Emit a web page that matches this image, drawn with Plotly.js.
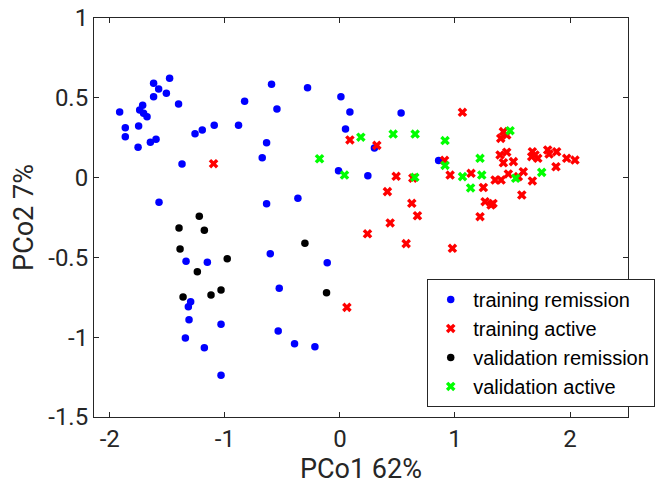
<!DOCTYPE html>
<html>
<head>
<meta charset="utf-8">
<script src="https://cdn.plot.ly/plotly-3.0.1.min.js"></script>
<style>html,body{margin:0;padding:0;background:#fff;}#chart{width:667px;height:489px;}</style>
</head>
<body>
<div id="chart"></div>
<script>
// training remission (blue)
const trainRemX = [-1.480,-1.619,-1.575,-1.508,-1.619,-1.402,-1.914,-1.714,-1.740,-1.706,-1.676,-1.865,-1.749,-1.865,-1.754,-1.647,-1.598,-1.372,-1.259,-1.196,-1.092,-0.881,-0.828,-0.594,-0.547,-0.637,-0.675,-1.572,-0.637,-0.281,0.009,0.087,0.532,0.049,0.300,-0.012,0.243,0.858,-0.365,-0.605,-0.110,-0.527,-0.536,-0.394,-0.217,-1.337,-1.152,-1.297,-1.317,-1.311,-1.033,-1.343,-1.178,-1.033];
const trainRemY = [0.622,0.591,0.555,0.528,0.507,0.461,0.411,0.453,0.424,0.403,0.382,0.313,0.323,0.256,0.190,0.221,0.240,0.085,0.275,0.298,0.328,0.328,0.478,0.585,0.430,0.219,0.125,-0.155,-0.164,0.563,0.507,0.411,0.405,0.305,0.185,0.043,0.012,0.107,-0.130,-0.477,-0.533,-0.694,-0.961,-1.041,-1.060,-0.524,-0.531,-0.778,-0.809,-0.890,-0.919,-1.005,-1.066,-1.239];

// training active (red)
const trainActX = [-1.098,0.087,0.321,0.489,0.634,0.413,0.625,0.674,0.437,0.240,0.576,0.061,0.978,0.910,0.958,1.065,1.140,1.247,1.398,1.421,1.450,1.392,1.450,1.421,1.508,1.673,1.696,1.720,1.667,1.806,1.884,1.971,2.043,1.878,1.594,1.464,1.349,1.401,1.551,1.673,1.581,1.262,1.314,1.218,1.818,1.331];
const trainActY = [0.087,0.236,0.202,0.008,-0.003,-0.088,-0.161,-0.239,-0.284,-0.352,-0.414,-0.813,-0.443,0.108,0.016,0.409,0.027,-0.062,0.246,0.288,0.267,0.142,0.159,0.093,0.100,0.162,0.142,0.121,0.131,0.173,0.162,0.121,0.110,0.068,0.037,0.023,-0.015,-0.015,0.006,-0.021,-0.109,-0.151,-0.172,-0.245,0.148,-0.162];

// validation remission (black)
const valRemX = [-1.222,-1.398,-1.178,-1.389,-0.979,-1.239,-1.033,-1.120,-1.363,-0.304,-0.116];
const valRemY = [-0.242,-0.316,-0.330,-0.447,-0.508,-0.590,-0.704,-0.736,-0.748,-0.412,-0.721];

// validation active (green)
const valActX = [0.182,0.463,0.654,0.914,-0.177,0.040,0.651,0.914,1.479,1.218,1.066,1.233,1.136,1.528,1.754];
const valActY = [0.253,0.273,0.273,0.232,0.118,0.016,0.002,0.076,0.294,0.121,0.006,0.016,-0.065,-0.004,0.033];

const seriesNames = ['training remission','training active','validation remission','validation active'];
const xTicks = [-2,-1,0,1,2];
const yTicks = [-1.5,-1,-0.5,0,0.5,1];

const dot = (c) => ({color:c, size:7.5, symbol:'circle', line:{width:0}});
const cross = (c) => ({color:c, size:8.5, symbol:'x', line:{width:0}});

const traces = [
  {x:trainRemX, y:trainRemY, mode:'markers', type:'scatter', name:seriesNames[0], marker:dot('#0000ff')},
  {x:trainActX, y:trainActY, mode:'markers', type:'scatter', name:seriesNames[1], marker:cross('#ff0000')},
  {x:valRemX, y:valRemY, mode:'markers', type:'scatter', name:seriesNames[2], marker:dot('#000000')},
  {x:valActX, y:valActY, mode:'markers', type:'scatter', name:seriesNames[3], marker:cross('#00ff00')}
];

const axisCommon = {
  showgrid:false, zeroline:false, showline:true, linecolor:'#262626', linewidth:1,
  mirror:'allticks', ticks:'inside', ticklen:5, tickcolor:'#262626', tickwidth:1,
  tickfont:{family:'Roboto, sans-serif', size:24, color:'#262626'}
};

const layout = {
  width:667, height:489,
  margin:{l:94, r:39, t:18, b:72, autoexpand:false},
  paper_bgcolor:'#fff', plot_bgcolor:'#fff',
  showlegend:true,
  xaxis: Object.assign({}, axisCommon, {
    range:[-2.137,2.504], tickvals:xTicks, ticktext:xTicks.map(String),
    title:{text:'PCo1 62%', font:{family:'Roboto, sans-serif', size:27, color:'#262626'}, standoff:4}
  }),
  yaxis: Object.assign({}, axisCommon, {
    range:[-1.5,1], tickvals:yTicks, ticktext:yTicks.map(String),
    title:{text:'PCo2 7%', font:{family:'Roboto, sans-serif', size:27, color:'#262626'}, standoff:6}
  }),
  legend:{
    x:0.624, y:0.346, xanchor:'left', yanchor:'top',
    bgcolor:'#fff', bordercolor:'#262626', borderwidth:1,
    font:{family:'Liberation Sans, Arial, sans-serif', size:20, color:'#000'},
    itemwidth:35, tracegroupgap:0
  }
};

Plotly.newPlot('chart', traces, layout, {staticPlot:true, displayModeBar:false});
</script>
</body>
</html>
